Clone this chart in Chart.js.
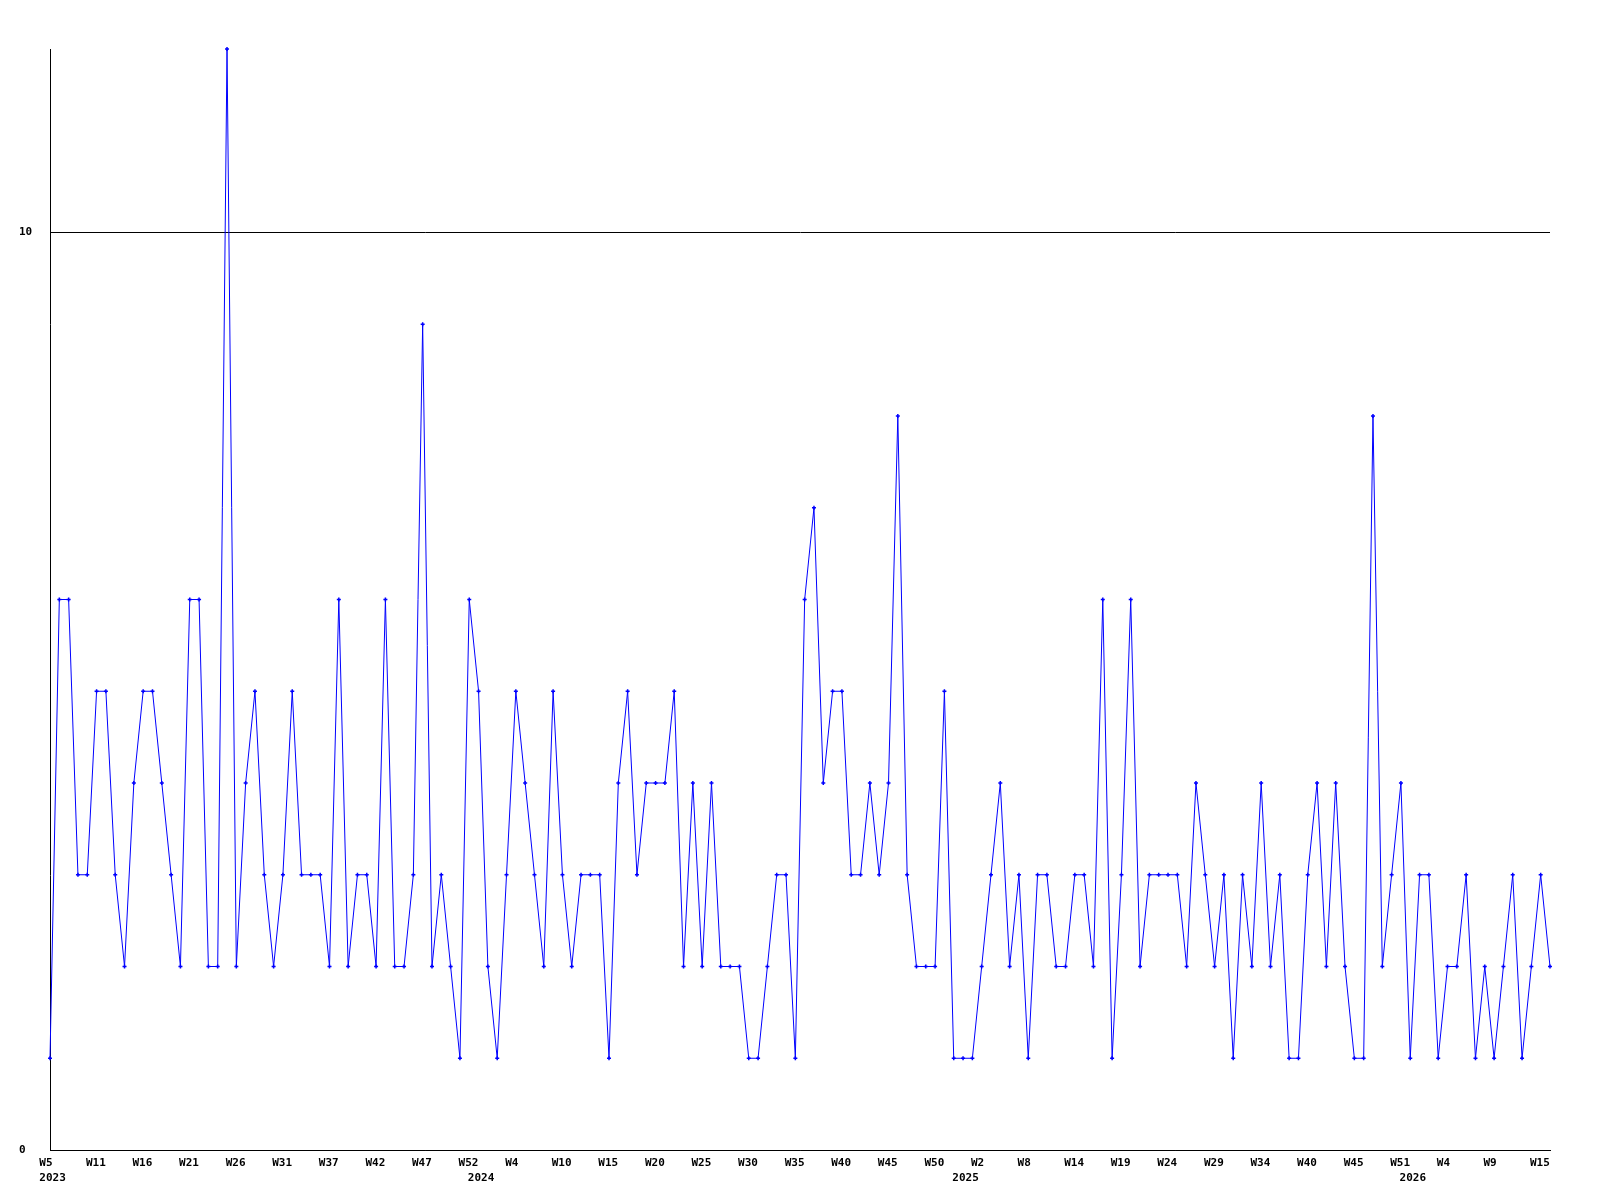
<!DOCTYPE html>
<html>
<head>
<meta charset="utf-8">
<script src="https://cdn.jsdelivr.net/npm/chart.js@4/dist/chart.umd.min.js"></script>
<style>
  body { margin: 0; background: #fff; }
  canvas { display: block; }
</style>
</head>
<body>
<canvas id="weekChart" width="1600" height="1200"></canvas>
<script>
// valores semanales, un punto por muestra
let counts = [
    1, 6, 6, 3, 3, 5, 5, 3, 2, 4, 5, 5, 4, 3, 2, 6, 6, 2, 2, 12, 2, 4, 5, 3, 2, 3, 5,
    3, 3, 3, 2, 6, 2, 3, 3, 2, 6, 2, 2, 3, 9, 2, 3, 2, 1, 6, 5, 2, 1, 3, 5, 4, 3, 2,
    5, 3, 2, 3, 3, 3, 1, 4, 5, 3, 4, 4, 4, 5, 2, 4, 2, 4, 2, 2, 2, 1, 1, 2, 3, 3, 1,
    6, 7, 4, 5, 5, 3, 3, 4, 3, 4, 8, 3, 2, 2, 2, 5, 1, 1, 1, 2, 3, 4, 2, 3, 1, 3, 3,
    2, 2, 3, 3, 2, 6, 1, 3, 6, 2, 3, 3, 3, 3, 2, 4, 3, 2, 3, 1, 3, 2, 4, 2, 3, 1, 1,
    3, 4, 2, 4, 2, 1, 1, 8, 2, 3, 4, 1, 3, 3, 1, 2, 2, 3, 1, 2, 1, 2, 3, 1, 2, 3, 2
];

// una etiqueta de semana cada 5 muestras
let weekLabels = ['W5', 'W11', 'W16', 'W21', 'W26', 'W31', 'W37', 'W42', 'W47', 'W52',
    'W4', 'W10', 'W15', 'W20', 'W25', 'W30', 'W35', 'W40', 'W45', 'W50',
    'W2', 'W8', 'W14', 'W19', 'W24', 'W29', 'W34', 'W40', 'W45', 'W51',
    'W4', 'W9', 'W15'];
let labelEvery = 5;

// primera muestra de cada año
let yearLabels = ['2023', '2024', '2025', '2026'];
let yearStart = [0, 46, 98, 146];

let yTicks = [0, 10];

const font = { family: 'DejaVu Sans Mono', size: 11, weight: 'bold', lineHeight: 1.2 };

let points = counts.map((v, i) => ({ x: i, y: v }));
let lastIndex = counts.length - 1;

let ctx = document.getElementById('weekChart').getContext('2d');
new Chart(ctx, {
    type: 'line',
    data: {
        datasets: [{
            data: points,
            borderColor: '#0000ff',
            backgroundColor: '#0000ff',
            borderWidth: 1,
            tension: 0,
            pointStyle: 'cross',
            pointRadius: 2,
            pointBorderWidth: 1.5,
            pointBorderColor: '#0000ff',
            clip: false
        }]
    },
    options: {
        responsive: false,
        animation: false,
        layout: { padding: { left: 19, top: 49, right: 50, bottom: 14 } },
        plugins: { legend: { display: false }, tooltip: { enabled: false } },
        scales: {
            x: {
                type: 'linear',
                position: 'bottom',
                min: 0,
                max: lastIndex,
                grid: { display: false, drawTicks: false },
                border: { display: true, color: '#000', width: 1 },
                afterBuildTicks: axis => {
                    axis.ticks = weekLabels.map((_, i) => ({ value: i * labelEvery }));
                },
                afterFit: axis => { axis.height = 20; },
                ticks: {
                    autoSkip: false,
                    maxRotation: 0,
                    align: 'start',
                    labelOffset: -10.7,
                    padding: 7,
                    color: '#000',
                    font: font,
                    callback: (v, i) => weekLabels[i]
                }
            },
            x2: {
                type: 'linear',
                position: 'bottom',
                min: 0,
                max: lastIndex,
                grid: { display: false, drawTicks: false },
                border: { display: false },
                afterBuildTicks: axis => { axis.ticks = yearStart.map(v => ({ value: v })); },
                afterFit: axis => { axis.height = 16; },
                ticks: {
                    autoSkip: false,
                    maxRotation: 0,
                    align: 'start',
                    labelOffset: -10.7,
                    padding: 2,
                    color: '#000',
                    font: font,
                    callback: (v, i) => yearLabels[i]
                }
            },
            y: {
                min: 0,
                max: 12,
                grid: { color: '#000', lineWidth: 1, drawTicks: false },
                border: { display: true, color: '#000', width: 1 },
                afterBuildTicks: axis => { axis.ticks = yTicks.map(v => ({ value: v })); },
                afterFit: axis => { axis.width = 31; },
                ticks: {
                    autoSkip: false,
                    crossAlign: 'far',
                    color: '#000',
                    font: font
                }
            }
        }
    }
});
</script>
</body>
</html>
